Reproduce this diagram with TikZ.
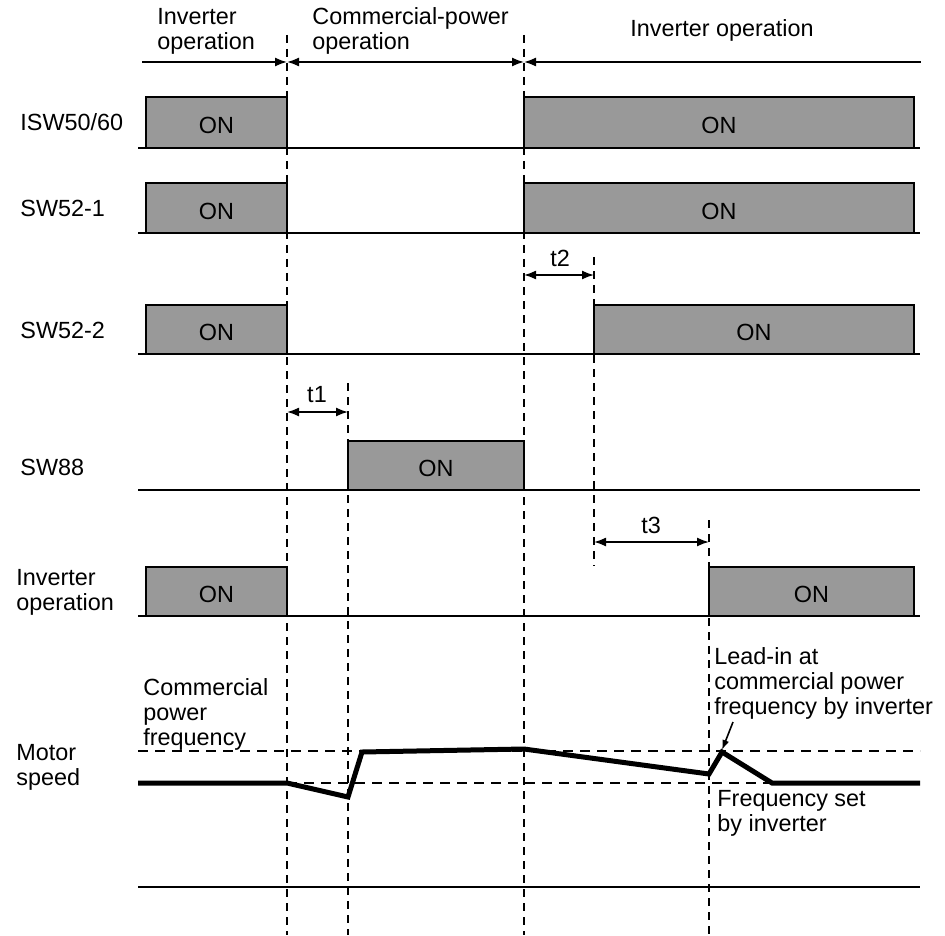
\documentclass[tikz,border=0pt]{standalone}
\usepackage{fontspec}
\setmainfont{Liberation Sans}
\usetikzlibrary{arrows.meta}

\begin{document}
\begin{tikzpicture}[
x=0.5pt, y=-0.5pt,
font=\fontsize{11.7}{12.5}\selectfont,
>={Latex[length=6pt,width=4.5pt]},
onbox/.style={draw=black, line width=0.7pt, fill=black!40},
base/.style={line width=0.9pt},
guide/.style={line width=1pt, dash pattern=on 4pt off 3pt},
level/.style={line width=0.7pt, dash pattern=on 5pt off 3.5pt},
arrow/.style={line width=0.8pt},
speed/.style={line width=2.5pt, line join=miter},
lbl/.style={anchor=west, align=left, inner sep=0pt}
]
\useasboundingbox (0,0) rectangle (945,935);

% time markers
\foreach \x/\ya/\yb in {287/35/935, 348/383/935, 524/35/935, 594/257/566, 709/520/935}
  \draw[guide] (\x,\ya) -- (\x,\yb);

% phase header
\node[lbl] (phase1) at (157,31) {Inverter\\operation};
\node[lbl] (phase2) at (312,31) {Commercial-power\\operation};
\node (phase3) at (722,30) {Inverter operation};
\draw[arrow,->] (142,62) -- (287,62);
\draw[arrow,<->] (287,62) -- (524,62);
\draw[arrow,<-] (524,62) -- (921,62);

% signal rows
\node[lbl] (isw) at (20,122) {ISW50/60};
\node[lbl] (sw521) at (20,208) {SW52-1};
\node[lbl] (sw522) at (20,330) {SW52-2};
\node[lbl] (sw88) at (20,467) {SW88};
\node[lbl] (invop) at (16,592) {Inverter\\operation};
\node[lbl] (motor) at (16,767) {Motor\\speed};

\foreach \y in {148,233,354,490,616,887}
  \draw[base] (138,\y) -- (920,\y);

\foreach \xa/\xb/\ya/\yb in {146/287/97/148, 524/914/97/148,
    146/287/183/233, 524/914/183/233,
    146/287/305/354, 594/914/305/354,
    348/524/441/490,
    146/287/567/616, 709/914/567/616}
  \draw[onbox] (\xa,\ya) rectangle (\xb,\yb)
    node at ({(\xa+\xb)/2},{(\ya+\yb)/2+3}) {ON};

% delays
\draw[arrow,<->] (287,412) -- (348,412);
\node (t1) at (317,395) {t1};
\draw[arrow,<->] (524,275) -- (594,275);
\node (t2) at (560,258) {t2};
\draw[arrow,<->] (594,542) -- (709,542);
\node (t3) at (651,525) {t3};

% motor speed
\draw[level] (138,751) -- (920,751);
\draw[level] (287,783) -- (920,783);
\draw[speed] (138,783) -- (287,783) -- (348,797) -- (362,752) -- (524,749)
  -- (709,774) -- (722,752) -- (772,783) -- (920,783);
\node[lbl] (commf) at (143,714) {Commercial\\power\\frequency};
\node[lbl] (leadin) at (714,683) {Lead-in at\\commercial power\\frequency by inverter};
\node[lbl] (setf) at (717,813) {Frequency set\\by inverter};
\draw[arrow,->,>={Latex[length=5pt,width=3.5pt]}] (733,722) -- (722,750);
\end{tikzpicture}
\end{document}
